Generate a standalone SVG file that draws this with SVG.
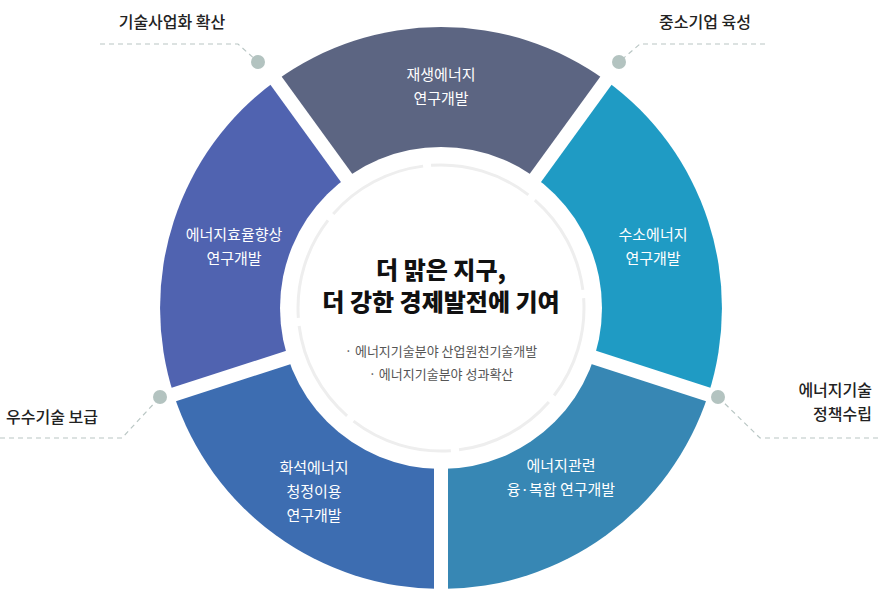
<svg xmlns="http://www.w3.org/2000/svg" width="878" height="596" viewBox="0 0 878 596">
<style>
.seg text{fill:#fff;font-family:"Noto Sans CJK KR","Noto Sans",sans-serif;font-size:15px;text-anchor:middle}
.lab{fill:#222;font-family:"Noto Sans CJK KR",sans-serif;font-size:16px;font-weight:500}
.dash{fill:none;stroke:#b9c6c4;stroke-width:1.2;stroke-dasharray:5 4}
.dot{fill:#b3c3c0}
.gap{stroke:#fff;stroke-width:14}
.sub{fill:#555;font-family:"Noto Sans CJK KR",sans-serif;font-size:13px;text-anchor:middle}
.title{fill:#111;font-family:"Noto Sans CJK KR",sans-serif;font-size:24px;font-weight:900;text-anchor:middle}
</style>
<rect width="878" height="596" fill="#fff"/>
<g id="segments">
<g class="seg" id="top"><path d="M441 308 L275.8 80.7 A281 281 0 0 1 606.2 80.7 Z" fill="#5c6582"/><text x="441" y="80">재생에너지</text><text x="441" y="104">연구개발</text></g>
<g class="seg" id="right"><path d="M441 308 L606.2 80.7 A281 281 0 0 1 708.2 394.8 Z" fill="#1f9bc4"/><text x="653" y="240">수소에너지</text><text x="653" y="264">연구개발</text></g>
<g class="seg" id="lowright"><path d="M441 308 L708.2 394.8 A281 281 0 0 1 441 589 Z" fill="#3787b4"/><text x="561" y="471">에너지관련</text><text x="561" y="495">융·복합 연구개발</text></g>
<g class="seg" id="lowleft"><path d="M441 308 L441 589 A281 281 0 0 1 173.8 394.8 Z" fill="#3d6db1"/><text x="314" y="473">화석에너지</text><text x="314" y="497">청정이용</text><text x="314" y="521">연구개발</text></g>
<g class="seg" id="left"><path d="M441 308 L173.8 394.8 A281 281 0 0 1 275.8 80.7 Z" fill="#5063b0"/><text x="234" y="240">에너지효율향상</text><text x="234" y="264">연구개발</text></g>
</g>
<g id="gaps">
<line class="gap" x1="441" y1="308" x2="441" y2="600"/>
<line class="gap" x1="441" y1="308" x2="163" y2="398"/>
<line class="gap" x1="441" y1="308" x2="269" y2="71"/>
<line class="gap" x1="441" y1="308" x2="613" y2="71"/>
<line class="gap" x1="441" y1="308" x2="719" y2="398"/>
</g>
<g id="center">
<circle cx="441" cy="308" r="161" fill="#fff"/>
<circle cx="441" cy="308" r="143" fill="none" stroke="#eeeeee" stroke-width="3" stroke-dasharray="104 8.3" transform="rotate(-94 441 308)"/>
<text class="title" x="441" y="279">더 맑은 지구,</text>
<text class="title" x="441" y="311">더 강한 경제발전에 기여</text>
<text class="sub" x="441" y="356">· 에너지기술분야 산업원천기술개발</text>
<text class="sub" x="441" y="379">· 에너지기술분야 성과확산</text>
</g>
<g id="connectors">
<path class="dash" d="M100 44 H238 L258 62"/>
<path class="dash" d="M765 44 H640 L619 62"/>
<path class="dash" d="M0 438 H122 L160 397"/>
<path class="dash" d="M878 438 H760 L718 397"/>
<circle class="dot" cx="258" cy="62" r="7"/>
<circle class="dot" cx="619" cy="62" r="7"/>
<circle class="dot" cx="160" cy="397" r="7"/>
<circle class="dot" cx="718" cy="397" r="7"/>
</g>
<g id="labels">
<text class="lab" x="172" y="28" text-anchor="middle">기술사업화 확산</text>
<text class="lab" x="705" y="28" text-anchor="middle">중소기업 육성</text>
<text class="lab" x="52" y="423" text-anchor="middle">우수기술 보급</text>
<text class="lab" x="872" y="396" text-anchor="end">에너지기술</text>
<text class="lab" x="872" y="420" text-anchor="end">정책수립</text>
</g>
</svg>
